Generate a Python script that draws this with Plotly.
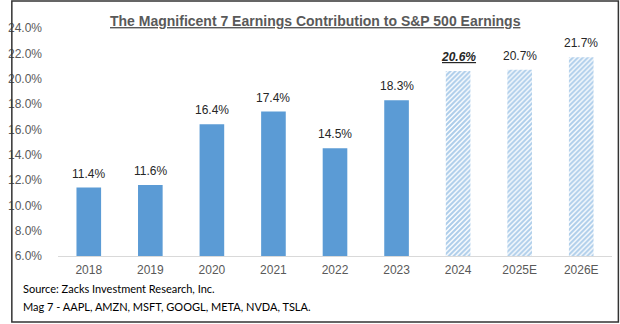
import plotly.graph_objects as go

years = ["2018", "2019", "2020", "2021", "2022", "2023", "2024", "2025E", "2026E"]
values = [11.4, 11.6, 16.4, 17.4, 14.5, 18.3, 20.6, 20.7, 21.7]
actual_years = years[:6]
actual_values = values[:6]
proj_years = years[6:]
proj_values = values[6:]
y_ticks = [6, 8, 10, 12, 14, 16, 18, 20, 22, 24]

title = "The Magnificent 7 Earnings Contribution to S&P 500 Earnings"
source = "Source: Zacks Investment Research, Inc."
note = "Mag 7 - AAPL, AMZN, MSFT, GOOGL, META, NVDA, TSLA."

BLUE = "#5B9BD5"
W, H = 620, 324
L, R, T, B = 48, 8, 28, 68
PW, PH = W - L - R, H - T - B

fig = go.Figure()
fig.add_trace(go.Bar(x=actual_years, y=actual_values, marker=dict(color=BLUE, line=dict(width=0)),
                     hoverinfo="x+y"))
fig.add_trace(go.Bar(x=proj_years, y=proj_values,
                     marker=dict(color="white", line=dict(width=0),
                                 pattern=dict(shape="/", fgcolor=BLUE, bgcolor="white", size=3.5, solidity=0.6)),
                     hoverinfo="x+y"))

for i, (yr, v) in enumerate(zip(years, values)):
    txt = f"{v:.1f}%"
    if yr == "2024":
        txt = f"<b><i><u>{txt}</u></i></b>"
    # category axis: position annotations by category index
    fig.add_annotation(x=i, y=v, text=txt, showarrow=False, yanchor="bottom", yshift=5,
                       font=dict(family="Liberation Sans, Arial", size=12, color="#262626"))

def px_x(p):
    return (p - L) / PW

def px_y(p):
    return (H - B - p) / PH

fig.add_annotation(xref="paper", yref="paper", x=px_x(310), y=px_y(21), xanchor="center", yanchor="middle",
                   text=f"<b><u>{title}</u></b>", showarrow=False,
                   font=dict(family="Liberation Sans, Arial", size=14, color="#595959"))
fig.add_annotation(xref="paper", yref="paper", x=px_x(10), y=px_y(288), xanchor="left", yanchor="middle",
                   text=source, showarrow=False,
                   font=dict(family="Lato, Liberation Sans, Arial", size=11, color="#000000"))
fig.add_annotation(xref="paper", yref="paper", x=px_x(10), y=px_y(306), xanchor="left", yanchor="middle",
                   text=note, showarrow=False,
                   font=dict(family="Lato, Liberation Sans, Arial", size=11, color="#000000"))

# outer border
fig.add_shape(type="rect", xref="paper", yref="paper",
              x0=px_x(1), x1=px_x(618.5), y0=px_y(322), y1=px_y(1),
              line=dict(color="#333333", width=1.5), fillcolor="rgba(0,0,0,0)", layer="above")

fig.update_layout(
    width=W, height=H, margin=dict(l=L, r=R, t=T, b=B),
    paper_bgcolor="white", plot_bgcolor="white",
    showlegend=False, barmode="overlay", bargap=0.6,
    font=dict(family="Liberation Sans, Arial", size=12, color="#595959"),
    xaxis=dict(type="category", categoryorder="array", categoryarray=years,
               range=[-0.5, len(years) - 0.5],
               showline=True, linecolor="#D9D9D9", linewidth=1, ticks="", showgrid=False,
               ticklabelstandoff=3, tickfont=dict(size=12, color="#595959")),
    yaxis=dict(range=[6, 24], tickvals=y_ticks, ticktext=[f"{t:.1f}%" for t in y_ticks],
               showgrid=False, zeroline=False, showline=False, ticks="",
               ticklabelstandoff=15, tickfont=dict(size=12, color="#595959")),
)

fig.write_html("out.html")
